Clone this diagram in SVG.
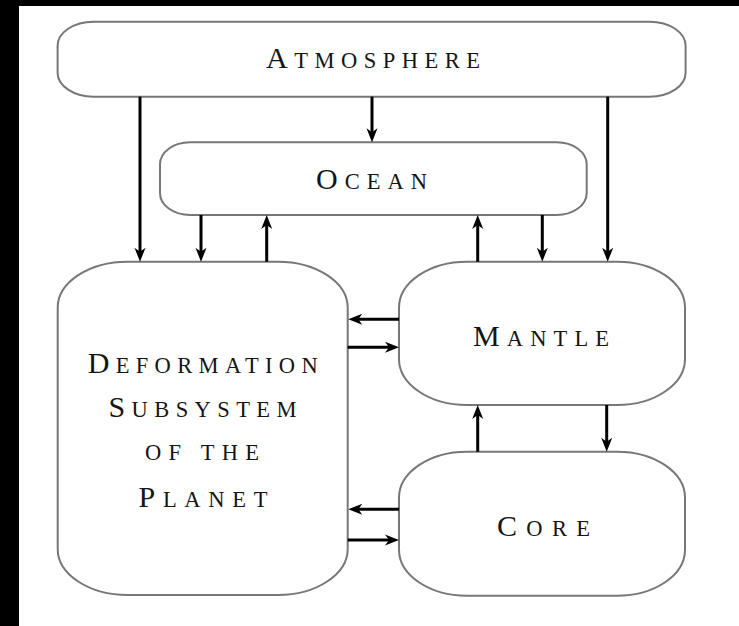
<svg xmlns="http://www.w3.org/2000/svg" width="739" height="626" viewBox="0 0 739 626">
  <style>
    .box { fill: #ffffff; stroke: #777777; stroke-width: 2; }
    .lbl { font-family: "Liberation Serif", "Times New Roman", serif; fill: #151515; text-anchor: middle; font-size: 22.5px; }
    .cap { font-size: 30px; }
    .arr { stroke: #000000; stroke-width: 3; fill: none; marker-end: url(#ah); }
  </style>
  <defs>
    <marker id="ah" markerUnits="userSpaceOnUse" viewBox="-15 -6 15 12" markerWidth="15" markerHeight="12" refX="-9" refY="0" orient="auto">
      <path d="M0,0 L-14,-5.5 L-10,0 L-14,5.5 Z" fill="#000000"/>
    </marker>
  </defs>
  <rect x="0" y="0" width="739" height="626" fill="#000000"/>
  <rect x="19" y="6" width="720" height="620" fill="#ffffff"/>

  <g id="atmosphere">
    <rect class="box" x="57.6" y="21.7" width="628" height="75" rx="36" ry="24"/>
    <text class="lbl" x="373" y="68" textLength="214" lengthAdjust="spacing"><tspan class="cap">A</tspan>TMOSPHERE</text>
  </g>

  <g id="ocean">
    <rect class="box" x="160" y="142.3" width="426.7" height="72.7" rx="30" ry="22"/>
    <text class="lbl" x="371.5" y="189" textLength="111" lengthAdjust="spacing"><tspan class="cap">O</tspan>CEAN</text>
  </g>

  <g id="deformation">
    <rect class="box" x="57.7" y="261.7" width="290" height="333.3" rx="70" ry="46"/>
    <text class="lbl" x="202.7" y="373" textLength="230" lengthAdjust="spacing"><tspan class="cap">D</tspan>EFORMATION</text>
    <text class="lbl" x="202.5" y="417" textLength="188" lengthAdjust="spacing"><tspan class="cap">S</tspan>UBSYSTEM</text>
    <text class="lbl" x="202" y="460" textLength="114" lengthAdjust="spacing">OF THE</text>
    <text class="lbl" x="203" y="507" textLength="129" lengthAdjust="spacing"><tspan class="cap">P</tspan>LANET</text>
  </g>

  <g id="mantle">
    <rect class="box" x="399" y="261.7" width="286" height="143.3" rx="68" ry="46"/>
    <text class="lbl" x="541" y="346" textLength="136" lengthAdjust="spacing"><tspan class="cap">M</tspan>ANTLE</text>
  </g>

  <g id="core">
    <rect class="box" x="399" y="451.7" width="286" height="144" rx="68" ry="46"/>
    <text class="lbl" x="543.5" y="536" textLength="93" lengthAdjust="spacing"><tspan class="cap">C</tspan>ORE</text>
  </g>

  <g id="connectors">
    <line class="arr" x1="140" y1="96.7" x2="140" y2="252.7"/>
    <line class="arr" x1="372" y1="96.7" x2="372" y2="133.3"/>
    <line class="arr" x1="607.7" y1="96.7" x2="607.7" y2="252.7"/>
    <line class="arr" x1="201" y1="215" x2="201" y2="252.7"/>
    <line class="arr" x1="266.7" y1="261.7" x2="266.7" y2="224"/>
    <line class="arr" x1="477.7" y1="261.7" x2="477.7" y2="224"/>
    <line class="arr" x1="542.3" y1="215" x2="542.3" y2="252.7"/>
    <line class="arr" x1="399" y1="319.3" x2="357.3" y2="319.3"/>
    <line class="arr" x1="347.7" y1="347.3" x2="390" y2="347.3"/>
    <line class="arr" x1="399" y1="509.3" x2="357.3" y2="509.3"/>
    <line class="arr" x1="347.7" y1="540" x2="390" y2="540"/>
    <line class="arr" x1="477.7" y1="451.7" x2="477.7" y2="414"/>
    <line class="arr" x1="606.7" y1="405" x2="606.7" y2="442.7"/>
  </g>
</svg>
